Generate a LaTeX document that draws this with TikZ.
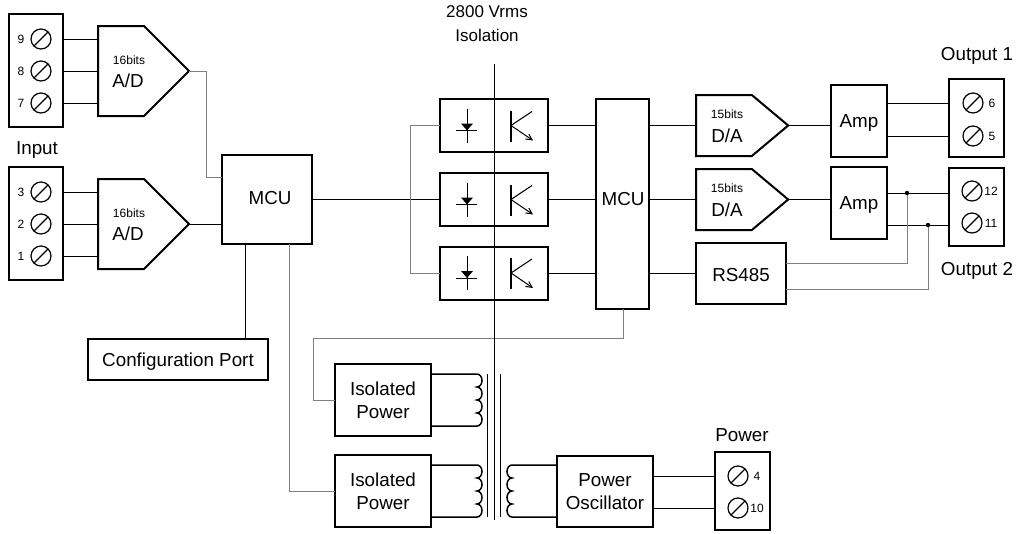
\documentclass[tikz,border=0pt]{standalone}
\usepackage{fontspec}
\setmainfont{Liberation Sans}
\usetikzlibrary{shapes.symbols, positioning, arrows.meta}

\tikzset{
    big/.style={font=\fontsize{18.8}{23}\selectfont},
    small/.style={font=\fontsize{12}{13}\selectfont, inner sep=0pt},
    block/.style={draw, line width=2pt, inner sep=0pt, outer sep=0pt, align=center, big},
    wire/.style={line width=1pt},
    greywire/.style={line width=1pt, black!50},
    converter/.style={draw, line width=2pt, shape=signal, signal to=east, inner sep=0pt, outer sep=0pt, align=center},
    screw/.style={circle, draw, line width=1.2pt, minimum size=20pt, inner sep=0pt,
        path picture={\draw[line width=1.2pt] (path picture bounding box.south west) -- (path picture bounding box.north east);}},
    coilright/.style={insert path={
        arc[start angle=90, end angle=-90, x radius=5pt, y radius=6.5pt]
        arc[start angle=90, end angle=-90, x radius=5pt, y radius=6.5pt]
        arc[start angle=90, end angle=-90, x radius=5pt, y radius=6.5pt]
        arc[start angle=90, end angle=-90, x radius=5pt, y radius=6.5pt]}},
    coilleft/.style={insert path={
        arc[start angle=90, end angle=270, x radius=5pt, y radius=6.5pt]
        arc[start angle=90, end angle=270, x radius=5pt, y radius=6.5pt]
        arc[start angle=90, end angle=270, x radius=5pt, y radius=6.5pt]
        arc[start angle=90, end angle=270, x radius=5pt, y radius=6.5pt]}},
}

\begin{document}
\begin{tikzpicture}[x=1pt, y=-1pt]
    \useasboundingbox (0,0) rectangle (1017,533);

    % terminals
    \node[block, minimum width=54pt, minimum height=113pt] (tb1) at (36,70.5) {};
    \node[block, minimum width=54pt, minimum height=113pt] (tb2) at (36,223.5) {};
    \node[block, minimum width=55pt, minimum height=78pt] (tb3) at (976.5,118) {};
    \node[block, minimum width=55pt, minimum height=78pt] (tb4) at (976.5,207) {};
    \node[block, minimum width=55pt, minimum height=78pt] (tb5) at (742.5,491) {};

    \foreach \n/\x/\y in {9/41/39, 8/41/71, 7/41/103, 3/41/192, 2/41/224, 1/41/256}{
        \node[screw] (s\n) at (\x,\y) {};
        \node[small] (n\n) at (\x-20,\y) {\n};
    }
    \foreach \n/\x/\y in {6/973/103, 5/973/136, 12/972/191, 11/972/223, 4/738/476, 10/738/508}{
        \node[screw] (s\n) at (\x,\y) {};
        \node[small] (n\n) at (\x+19,\y) {\n};
    }

    \node[big] (input) at (37,150) {Input};
    \node[big] (out1) at (977,56) {Output 1};
    \node[big] (out2) at (977,271) {Output 2};
    \node[big] (power) at (742,435.5) {Power};
    \node[align=center, font=\fontsize{17}{24}\selectfont] (iso) at (487,24) {2800 Vrms\\Isolation};

    % converters
    \node[converter, signal pointer angle=90, minimum width=91pt, minimum height=90pt] (ad1) at (121,71) {};
    \node[converter, signal pointer angle=90, minimum width=91pt, minimum height=90pt] (ad2) at (121,224) {};
    \node[converter, signal pointer angle=80, minimum width=92pt, minimum height=61pt] (da1) at (724,125.5) {};
    \node[converter, signal pointer angle=80, minimum width=92pt, minimum height=61pt] (da2) at (724,199.5) {};

    \node[small] (ad1bits) at (129,60) {16bits};
    \node[big] (ad1txt) at (128,81) {A/D};
    \node[small] (ad2bits) at (129,213) {16bits};
    \node[big] (ad2txt) at (128,234) {A/D};
    \node[small] (da1bits) at (727,114) {15bits};
    \node[big] (da1txt) at (727,136) {D/A};
    \node[small] (da2bits) at (727,188) {15bits};
    \node[big] (da2txt) at (727,210) {D/A};

    % blocks
    \node[block, minimum width=90pt, minimum height=89pt] (mcu1) at (267,199.5) {};
    \node[big] (mcu1txt) at (270,198) {MCU};
    \node[block, minimum width=53pt, minimum height=210pt] (mcu2) at (622.5,204) {};
    \node[big] (mcu2txt) at (623,199) {MCU};
    \node[block, text height=16pt, minimum width=90pt, minimum height=61pt] (rs) at (741,273.5) {RS485};
    \node[block, text depth=0pt, minimum width=56pt, minimum height=72pt] (amp1) at (859,121) {Amp};
    \node[block, text depth=0pt, minimum width=56pt, minimum height=72pt] (amp2) at (859,203) {Amp};
    \node[block, text depth=0pt, minimum width=180pt, minimum height=41pt] (cfg) at (178,359.5) {Configuration Port};
    \node[block, minimum width=96pt, minimum height=72pt] (ip1) at (383,400) {Isolated\\Power};
    \node[block, minimum width=96pt, minimum height=72pt] (ip2) at (383,491) {Isolated\\Power};
    \node[block, minimum width=96pt, minimum height=71pt] (osc) at (605,491.5) {Power\\Oscillator};

    % optocouplers
    \foreach \n/\y in {1/125.5, 2/199.5, 3/273}{
        \node[block, minimum width=108pt, minimum height=53pt] (opto\n) at (494,\y) {};
        \draw[wire] (467,\y-17) -- (467,\y+17);
        \draw[wire] (456,\y+5) -- (477,\y+5);
        \fill (461,\y-2) -- (473,\y-2) -- (467,\y+5) -- cycle;
        \draw[line width=1.5pt] (511,\y-15) -- (511,\y+16);
        \draw[wire] (532,\y-14) -- (511,\y);
        \draw[wire, -{Straight Barb[length=6pt, width=6pt]}] (511,\y) -- (533,\y+15);
    }

    % input side
    \foreach \s in {9,8,7}
        \draw[wire] (tb1.east |- s\s) -- (ad1.west |- s\s);
    \foreach \s in {3,2,1}
        \draw[wire] (tb2.east |- s\s) -- (ad2.west |- s\s);
    \coordinate (mcu1in) at (222,177);
    \draw[greywire] (ad1.east) -| (206,177) -- (mcu1in);
    \draw[wire] (ad2.east) -- (mcu1.west |- ad2.east);
    \draw[wire] (mcu1.east) -- (opto2.west);
    \draw[greywire] (opto1.west) -| (410,273) -- (opto3.west);
    \draw[wire] (245,244) -- (245,339);

    % output side
    \foreach \n in {1,2,3}
        \draw[wire] (opto\n.east) -- (mcu2.west |- opto\n.east);
    \draw[wire] (mcu2.east |- da1.west) -- (da1.west);
    \draw[wire] (mcu2.east |- da2.west) -- (da2.west);
    \draw[wire] (mcu2.east |- rs.west) -- (rs.west);
    \draw[wire] (da1.east) -- (amp1.west |- da1.east);
    \draw[wire] (da2.east) -- (amp2.west |- da2.east);
    \draw[wire] (amp1.east |- s6) -- (tb3.west |- s6);
    \draw[wire] (amp1.east |- s5) -- (tb3.west |- s5);

    \coordinate (j12) at (907,193);
    \coordinate (j11) at (928,225);
    \draw[wire] (amp2.east |- j12) -- (tb4.west |- j12);
    \draw[wire] (amp2.east |- j11) -- (tb4.west |- j11);
    \draw[greywire] (786,263) -| (j12);
    \draw[greywire] (786,289) -| (j11);
    \fill (j12) circle (2.2pt);
    \fill (j11) circle (2.2pt);

    % power
    \draw[greywire] (623,309) |- (313,338) |- (ip1.west);
    \draw[greywire] (289,244) |- (ip2.west);
    \draw[wire] (osc.east |- s4) -- (tb5.west |- s4);
    \draw[wire] (osc.east |- s10) -- (tb5.west |- s10);

    % transformer
    \draw[line width=1.5pt] (ip1.east |- 0,374) -- (477,374) [coilright] -- (ip1.east |- 0,426);
    \draw[line width=1.5pt] (ip2.east |- 0,465) -- (477,465) [coilright] -- (ip2.east |- 0,517);
    \draw[line width=1.5pt] (osc.west |- 0,465) -- (512,465) [coilleft] -- (osc.west |- 0,517);
    \draw[wire] (487,374) -- (487,517);
    \draw[wire] (500,374) -- (500,517);
    \draw[wire] (494,64) -- (494,520);
\end{tikzpicture}
\end{document}
